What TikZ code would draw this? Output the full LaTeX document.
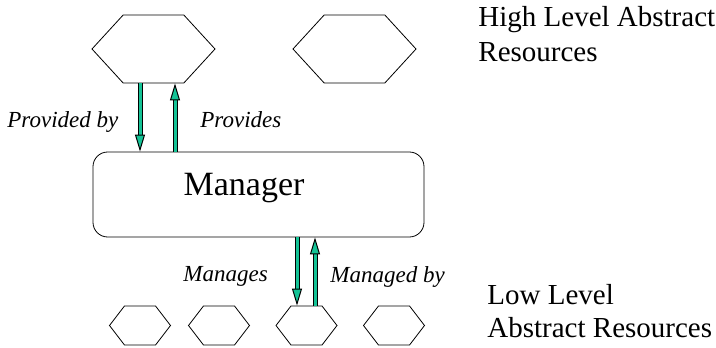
\documentclass[tikz,border=0pt]{standalone}
\usepackage{fontspec}
\setmainfont{Liberation Serif}
\usetikzlibrary{shapes.symbols,arrows.meta}

\definecolor{arrowgreen}{RGB}{20,195,150}

\tikzset{
    bighex/.style={draw, signal, signal to=west and east, signal pointer angle=95,
        minimum width=92.25pt, minimum height=51pt, inner sep=0pt},
    smallhex/.style={draw, signal, signal to=west and east, signal pointer angle=105,
        minimum width=45.75pt, minimum height=29.25pt, inner sep=0pt},
    mgrbox/.style={draw, rounded corners=11pt, minimum width=248.25pt,
        minimum height=63.75pt, inner sep=0pt},
    feed/.style={double=arrowgreen, double distance=2.25pt, line width=0.75pt,
        -{Triangle[length=12.75pt, width=7.5pt, fill=arrowgreen]}},
    tag/.style={font=\fontsize{17.25}{20}\selectfont\itshape, inner sep=0pt, anchor=base west},
    level/.style={inner sep=0pt, anchor=base west, align=left}
}

\begin{document}
\begin{tikzpicture}[x=0.75pt, y=-0.75pt, line width=0.6pt]

    \useasboundingbox (0,0) rectangle (716,348);

    \node[bighex] (hiA) at (153.5,49) {};
    \node[bighex] (hiB) at (354.5,49) {};

    \node[mgrbox] (mgr) at (258.5,194.5) {};
    \node[font=\fontsize{25.5}{30}\selectfont, inner sep=0pt, anchor=base] (mgrtext)
        at (244,196) {Manager};

    \node[smallhex] (loA) at (140,325.5) {};
    \node[smallhex] (loB) at (219,325.5) {};
    \node[smallhex] (loC) at (306.5,325.5) {};
    \node[smallhex] (loD) at (394,325.5) {};

    \draw[feed] (hiA.south -| 140,0) -- (mgr.north -| 140,0);
    \draw[feed] (mgr.north -| 175,0) -- (hiA.south -| 175,0);

    \draw[feed] (mgr.south -| 297,0) -- (loC.north -| 297,0);
    \draw[feed] (loC.north -| 315,0) -- (mgr.south -| 315,0);

    \node[tag] (provby) at (7,128) {Provided by};
    \node[tag] (prov) at (200,128) {Provides};
    \node[tag] (mans) at (183,282) {Manages};
    \node[tag] (manby) at (330,283) {Managed by};

    \node[level, font=\fontsize{21.75}{26.25}\selectfont] (hitext) at (478,62)
        {High Level Abstract\\Resources};
    \node[level, font=\fontsize{21.75}{24.75}\selectfont] (lotext) at (487,338)
        {Low Level\\Abstract Resources};

\end{tikzpicture}
\end{document}
